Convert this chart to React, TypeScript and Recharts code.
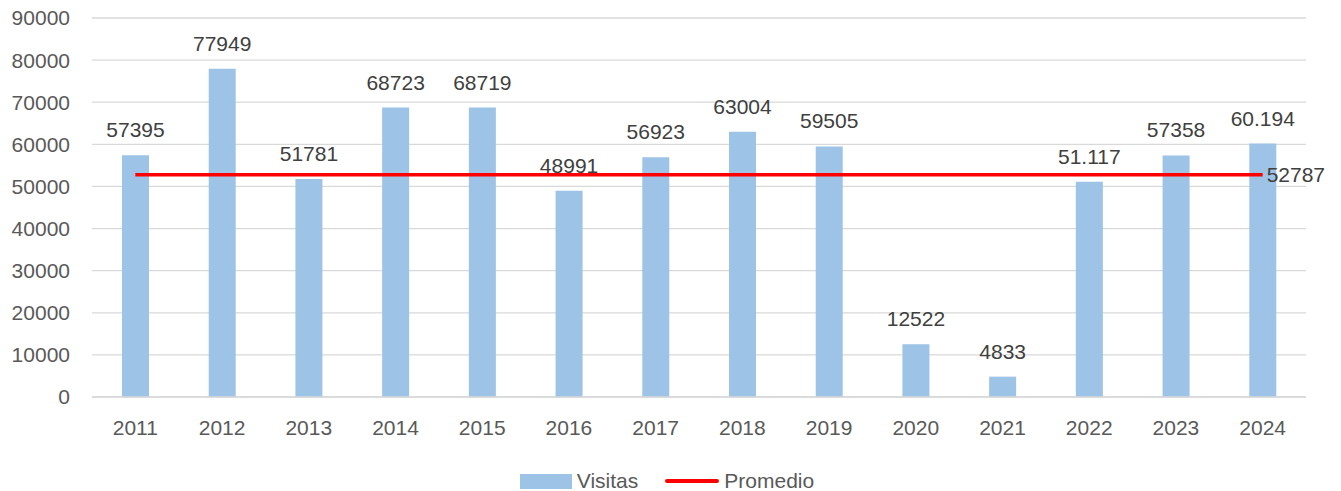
import React from "react";
import { ComposedChart, Bar, Line, XAxis, YAxis, CartesianGrid, Legend, LabelList } from "recharts";

const years = ["2011","2012","2013","2014","2015","2016","2017","2018","2019","2020","2021","2022","2023","2024"];
const visitas = [57395, 77949, 51781, 68723, 68719, 48991, 56923, 63004, 59505, 12522, 4833, 51117, 57358, 60194];
const visitasLabels = ["57395","77949","51781","68723","68719","48991","56923","63004","59505","12522","4833","51.117","57358","60.194"];
const promedio = 52787;
const yTicks = [0, 10000, 20000, 30000, 40000, 50000, 60000, 70000, 80000, 90000];

const data = years.map((y, i) => ({ year: y, visitas: visitas[i], label: visitasLabels[i], promedio }));

const FONT = "'Liberation Sans', Arial, sans-serif";

const BarLabel = (props: any) => {
  const { x, y, width, index } = props;
  return (
    <text x={x + width / 2} y={y - 18} textAnchor="middle" fill="#404040" fontSize={21} fontFamily={FONT}>
      {visitasLabels[index]}
    </text>
  );
};

const LineLabel = (props: any) => {
  const { x, y, index, value } = props;
  if (index !== years.length - 1) return null;
  return (
    <text x={x + 4} y={y} dy={7} textAnchor="start" fill="#404040" fontSize={21} fontFamily={FONT}>
      {value}
    </text>
  );
};

const LegendContent = () => (
  <div style={{ display: "flex", justifyContent: "center", alignItems: "center", height: 20, paddingLeft: 20, fontFamily: FONT, fontSize: 21, color: "#595959" }}>
    <div style={{ width: 52, height: 15, background: "#9DC3E6", marginRight: 5 }} />
    <span>Visitas</span>
    <div style={{ width: 54, height: 4, background: "#FF0000", borderRadius: 2, marginLeft: 27, marginRight: 5 }} />
    <span>Promedio</span>
  </div>
);

export default function App() {
  return (
    <div style={{ position: "absolute", left: 0, top: 0 }}>
      <ComposedChart width={1341} height={491} data={data} margin={{ top: 18, right: 35, bottom: 0, left: 8 }}>
        <CartesianGrid vertical={false} stroke="#d9d9d9" strokeWidth={1.3} />
        <XAxis
          dataKey="year"
          height={74}
          tickLine={false}
          axisLine={{ stroke: "#d9d9d9", strokeWidth: 1.3 }}
          tick={{ fill: "#595959", fontSize: 21, fontFamily: FONT }}
          tickMargin={17}
          interval={0}
        />
        <YAxis
          width={84}
          domain={[0, 90000]}
          ticks={yTicks}
          interval={0}
          tickLine={false}
          axisLine={false}
          tick={{ fill: "#595959", fontSize: 21, fontFamily: FONT }}
          tickMargin={16}
        />
        <Legend verticalAlign="bottom" height={20} content={<LegendContent />} />
        <Bar dataKey="visitas" name="Visitas" fill="#9DC3E6" barSize={27} isAnimationActive={false}>
          <LabelList dataKey="label" content={<BarLabel />} />
        </Bar>
        <Line dataKey="promedio" name="Promedio" stroke="#FF0000" strokeWidth={3.5} dot={false} activeDot={false} isAnimationActive={false}>
          <LabelList dataKey="promedio" content={<LineLabel />} />
        </Line>
      </ComposedChart>
    </div>
  );
}
